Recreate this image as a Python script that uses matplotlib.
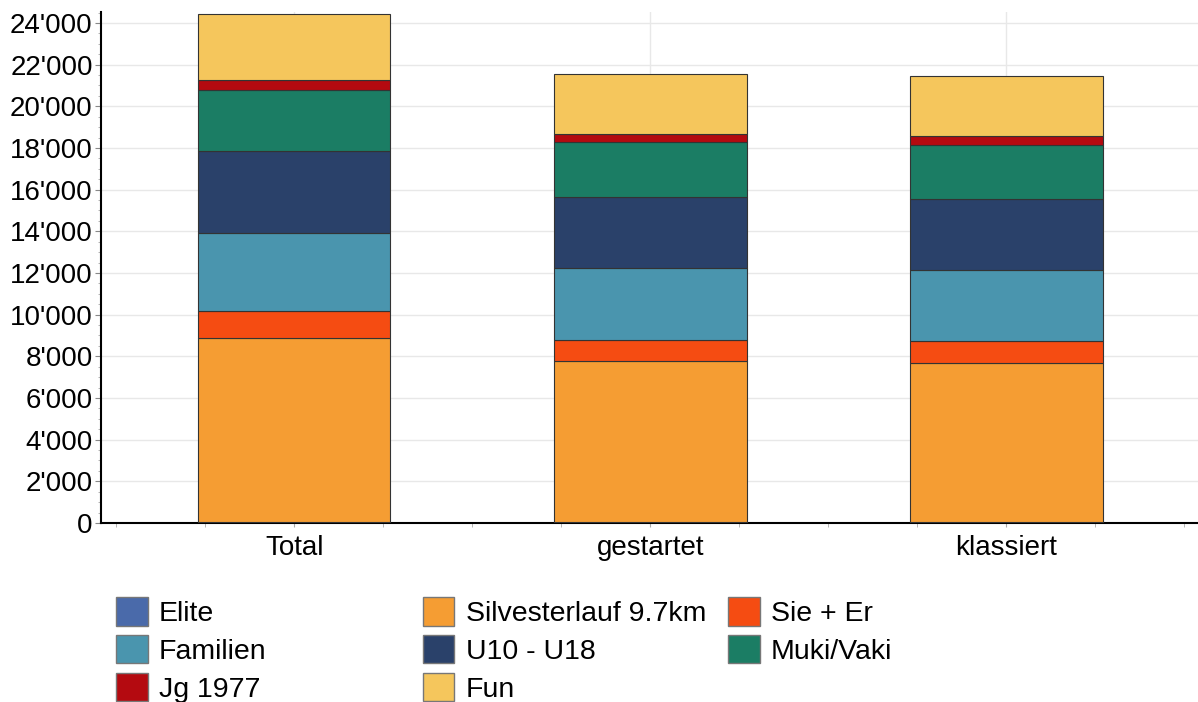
import numpy as np
import matplotlib
matplotlib.use('Agg')
import matplotlib.pyplot as plt
from matplotlib.patches import Patch
from matplotlib.ticker import FuncFormatter, MultipleLocator

plt.rcParams['font.family'] = ['Liberation Sans', 'DejaVu Sans']

# data
categories = ['Total', 'gestartet', 'klassiert']
series = ['Elite', 'Silvesterlauf 9.7km', 'Sie + Er', 'Familien',
          'U10 - U18', 'Muki/Vaki', 'Jg 1977', 'Fun']
elite = [60, 50, 50]
silvesterlauf = [8840, 7730, 7630]
sie_er = [1280, 1010, 1060]
familien = [3740, 3450, 3410]
u10_u18 = [3940, 3410, 3400]
muki_vaki = [2930, 2640, 2600]
jg_1977 = [480, 380, 430]
fun = [3160, 2880, 2880]

values = [elite, silvesterlauf, sie_er, familien, u10_u18, muki_vaki, jg_1977, fun]
colors = ['#4A6AAA', '#F59D33', '#F54C12', '#4A95AE',
          '#2A416A', '#1B7D64', '#B40A10', '#F5C65C']

fig = plt.figure(figsize=(11.98, 7.02), dpi=100)
ax = fig.add_axes([0.0843, 0.255, 0.9157, 0.728])

x = np.arange(len(categories))
bottom = np.zeros(len(categories))
for name, vals, col in zip(series, values, colors):
    ax.bar(x, vals, width=0.54, bottom=bottom, color=col,
           edgecolor='#333333', linewidth=0.8, zorder=3)
    bottom += np.array(vals)

ax.set_xlim(-0.543, 2.538)
ax.set_ylim(0, 24530)
ax.set_xticks(x)
ax.set_xticklabels(categories, fontsize=20)
ax.xaxis.set_minor_locator(MultipleLocator(0.25))
ax.yaxis.set_major_locator(MultipleLocator(2000))
ax.yaxis.set_minor_locator(MultipleLocator(500))
ax.yaxis.set_major_formatter(FuncFormatter(lambda v, p: f"{int(v):,}".replace(',', "'")))
ax.tick_params(axis='y', labelsize=20, length=4, color='#888888', pad=2)
ax.tick_params(axis='y', which='minor', length=2, color='#aaaaaa')
ax.tick_params(axis='x', which='both', length=3, color='#aaaaaa', pad=6)

ax.grid(True, color='#e8e8e8', linewidth=1, zorder=0)
ax.set_axisbelow(True)
for s in ['top', 'right']:
    ax.spines[s].set_visible(False)
ax.spines['left'].set_linewidth(1.5)
ax.spines['bottom'].set_linewidth(1.5)

# legend: three columns, filled row-wise
handles = [Patch(facecolor=c, edgecolor='#777777', linewidth=1) for c in colors]
cols = [[0, 3, 6], [1, 4, 7], [2, 5]]
xpos = [0.097, 0.353, 0.608]
for idx, xp in zip(cols, xpos):
    leg = fig.legend([handles[i] for i in idx], [series[i] for i in idx],
                     loc='upper left', bbox_to_anchor=(xp, 0.149),
                     frameon=False, fontsize=20.5, borderpad=0, borderaxespad=0,
                     handlelength=1.1, handleheight=1.15, handletextpad=0.4,
                     labelspacing=0.28)

fig.savefig('out.png', dpi=100)
